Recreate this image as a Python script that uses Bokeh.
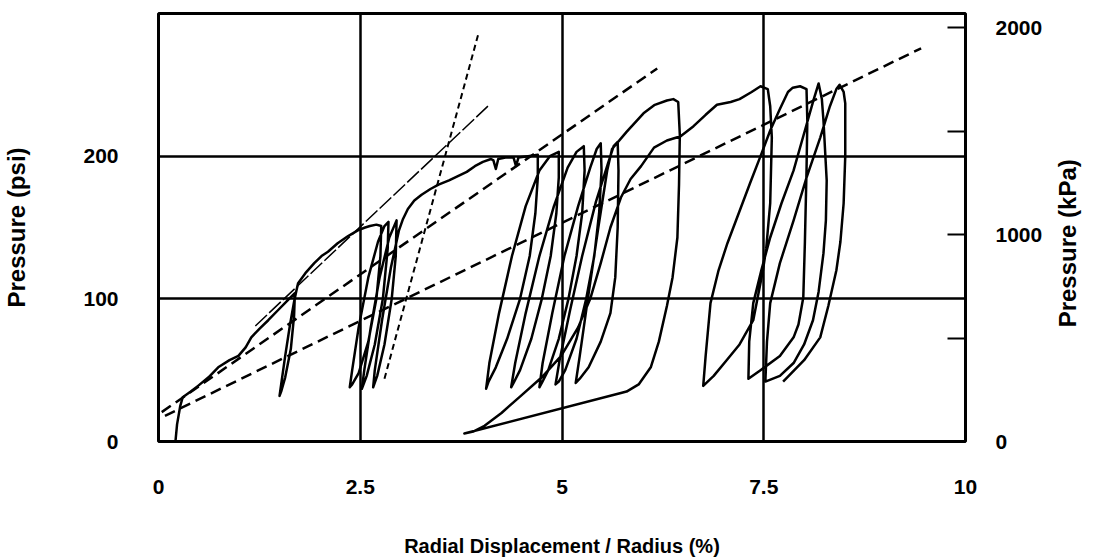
import math
from bokeh.plotting import figure
from bokeh.models import Range1d, LinearAxis, FixedTicker, NumeralTickFormatter
from bokeh.embed import file_html
from bokeh.resources import INLINE

# Main pressuremeter curve: radial displacement / radius (%) vs pressure (psi)
disp = [0.21, 0.23, 0.27, 0.30, 0.40, 0.49, 0.62, 0.74, 0.88, 0.99, 1.08, 1.15, 1.25, 1.36, 1.48, 1.60, 1.69,
        1.68, 1.64, 1.57, 1.52, 1.50, 1.52, 1.57, 1.63, 1.68, 1.71,
        1.73, 1.82, 1.93, 2.02, 2.10, 2.22, 2.35, 2.47, 2.56, 2.62, 2.70, 2.76,
        2.75, 2.70, 2.60, 2.48, 2.40, 2.37,
        2.40, 2.48, 2.60, 2.72, 2.80, 2.85,
        2.84, 2.78, 2.68, 2.58, 2.52,
        2.55, 2.63, 2.74, 2.86, 2.95,
        2.94, 2.89, 2.80, 2.71, 2.66,
        2.68, 2.77, 2.88, 2.98, 3.03,
        3.09, 3.17, 3.26, 3.37, 3.47, 3.60, 3.71, 3.82, 3.92, 4.02, 4.12,
        4.15, 4.18, 4.21, 4.30, 4.40, 4.43, 4.46, 4.58, 4.70,
        4.70, 4.67, 4.60, 4.48, 4.32, 4.18, 4.09, 4.06,
        4.10, 4.22, 4.38, 4.55, 4.72, 4.85, 4.96,
        4.96, 4.93, 4.86, 4.75, 4.62, 4.48, 4.40, 4.37,
        4.42, 4.55, 4.72, 4.90, 5.07, 5.18, 5.27,
        5.28, 5.25, 5.18, 5.08, 4.96, 4.83, 4.75, 4.72,
        4.76, 4.88, 5.03, 5.20, 5.35, 5.43, 5.48,
        5.49, 5.46, 5.40, 5.30, 5.18, 5.04, 4.96, 4.92,
        4.97, 5.10, 5.25, 5.42, 5.57, 5.64, 5.69,
        5.70, 5.69, 5.66, 5.60, 5.48, 5.33, 5.22, 5.17,
        5.22, 5.32, 5.45, 5.56, 5.62, 5.80, 6.01, 6.15, 6.30, 6.38, 6.44,
        6.46, 6.45, 6.43, 6.37, 6.30, 6.20, 6.10, 5.95, 5.80, 5.73,
        3.79,
        3.90, 4.04, 4.25, 4.49, 4.75, 4.99, 5.20, 5.35, 5.48, 5.60, 5.73, 5.85, 5.98, 6.14, 6.30, 6.47, 6.63,
        6.78, 6.92, 7.09, 7.20, 7.35, 7.46, 7.55,
        7.58, 7.60, 7.58, 7.53, 7.49, 7.37, 7.20, 7.04, 6.88, 6.75,
        6.78, 6.84, 6.94, 7.05, 7.19, 7.33, 7.46, 7.58, 7.70, 7.80, 7.86, 7.95, 8.03,
        8.04, 8.03, 8.01, 7.99, 7.93, 7.87, 7.70, 7.46, 7.31,
        7.32, 7.37, 7.47, 7.58, 7.72, 7.87, 8.03, 8.12, 8.18,
        8.22, 8.24, 8.28, 8.27, 8.24, 8.18, 8.11, 8.00, 7.87, 7.70, 7.52,
        7.54, 7.58, 7.70, 7.87, 8.03, 8.20, 8.32, 8.40, 8.44,
        8.49, 8.51, 8.51, 8.49, 8.45, 8.40, 8.30, 8.20, 8.00, 7.74]
pres = [0, 12, 25, 31, 35, 39, 45, 52, 57, 60, 66, 73, 79, 85, 92, 99, 104,
        88, 65, 45, 35, 32, 40, 60, 82, 98, 106,
        111, 118, 125, 130, 133, 139, 144, 148, 150, 151, 152, 151,
        130, 100, 70, 48, 40, 38,
        50, 80, 115, 140, 151, 154,
        135, 100, 68, 46, 37,
        50, 80, 115, 143, 155,
        130, 100, 68, 46, 38,
        50, 85, 122, 148, 156,
        163, 169, 173, 177, 180, 183, 186, 189, 193, 196, 198,
        197, 191, 198, 199, 199, 193, 199, 200, 201,
        185, 160, 130, 100, 72, 52, 42, 37,
        55, 90, 130, 165, 190, 200, 203,
        185, 160, 130, 100, 72, 50, 41, 38,
        55, 90, 130, 165, 192, 203, 207,
        190, 160, 130, 100, 72, 50, 41, 38,
        55, 90, 130, 165, 192, 205, 209,
        190, 160, 130, 100, 72, 50, 42, 40,
        57, 92, 130, 168, 195, 207, 210,
        190, 150, 115, 90, 70, 52, 44, 41,
        60, 100, 150, 190, 205, 217, 230, 236, 239, 240, 238,
        215, 180, 143, 115, 95, 70, 52, 40, 35, 34,
        5.6,
        7, 11, 20, 32, 45, 60, 80, 100, 125, 150, 171, 184, 193, 206, 211, 214, 221,
        229, 236, 238, 240, 245, 249, 247,
        235, 213, 167, 135, 120, 85, 68, 57, 46, 39,
        60, 97, 120, 139, 160, 181, 200, 218, 233, 245, 248, 249, 247,
        225, 190, 140, 101, 82, 73, 60, 50, 44,
        70, 97, 120, 143, 167, 190, 222, 240, 251,
        240, 225, 183, 155, 132, 105, 85, 68, 55, 46, 42,
        70, 97, 125, 155, 185, 213, 235, 247, 250,
        245, 237, 200, 167, 140, 120, 95, 73, 57, 42]

# Construction lines
upper_dash_x = [0.04, 6.18]
upper_dash_y = [20.6, 261.5]
lower_dash_x = [0.08, 9.45]
lower_dash_y = [18.0, 275.6]
steep_dash_x = [2.80, 3.96]
steep_dash_y = [44.0, 285.0]
tangent_x = [1.20, 4.10]
tangent_y = [81.0, 236.0]

x_ticks = [0, 2.5, 5, 7.5, 10]
psi_ticks = [0, 100, 200]
kpa_ticks = [0, 500, 1000, 1500, 2000]
PSI_TO_KPA = 6.895

FONT = "Liberation Sans"

p = figure(width=1102, height=559, output_backend="svg", toolbar_location=None,
           x_range=Range1d(0, 10), y_range=Range1d(0, 300),
           min_border_left=156, min_border_right=137, min_border_top=13, min_border_bottom=118)
p.background_fill_color = "white"
p.border_fill_color = "white"
p.outline_line_color = "black"
p.outline_line_width = 3

p.xgrid.ticker = FixedTicker(ticks=[2.5, 5, 7.5])
p.ygrid.ticker = FixedTicker(ticks=[100, 200])
for g in (p.xgrid, p.ygrid):
    g.grid_line_color = "black"
    g.grid_line_width = 2.5
    g.grid_line_alpha = 1.0

xa = p.xaxis[0]
xa.ticker = FixedTicker(ticks=x_ticks)
xa.formatter = NumeralTickFormatter(format="0.[0]")
xa.axis_label = "Radial Displacement / Radius (%)"
xa.major_label_standoff = 38
xa.axis_label_standoff = 38

ya = p.yaxis[0]
ya.ticker = FixedTicker(ticks=psi_ticks)
ya.axis_label = "Pressure (psi)"
ya.major_label_standoff = 40
ya.axis_label_standoff = 50

p.extra_y_ranges = {"kpa": Range1d(0, 300 * PSI_TO_KPA)}
ra = LinearAxis(y_range_name="kpa", ticker=FixedTicker(ticks=kpa_ticks),
                major_label_overrides={500: "", 1500: ""})
ra.major_label_standoff = 30
p.add_layout(ra, "right")

# Right-hand title carried by an extra, line-less axis so it reads bottom to top
ra_title = LinearAxis(ticker=FixedTicker(ticks=[80]),
                      major_label_overrides={80: "Pressure (kPa)"},
                      major_label_orientation=math.pi / 2)
ra_title.major_label_standoff = 22
p.add_layout(ra_title, "right")

for ax in (xa, ya, ra, ra_title):
    ax.axis_line_color = None
    ax.minor_tick_line_color = None
    ax.major_tick_out = 0
    ax.major_tick_in = 0
    ax.major_label_text_font = FONT
    ax.major_label_text_font_style = "bold"
    ax.major_label_text_font_size = "21px"
    ax.major_label_text_color = "black"
    ax.axis_label_text_font = FONT
    ax.axis_label_text_font_style = "bold"
    ax.axis_label_text_color = "black"
xa.axis_label_text_font_size = "20px"
ya.axis_label_text_font_size = "24px"
ra_title.major_label_text_font_size = "24px"
ra.major_tick_in = 18
ra.major_tick_line_color = "black"
ra.major_tick_line_width = 2

p.line(upper_dash_x, upper_dash_y, color="black", line_width=2.5, line_dash="11 6")
p.line(lower_dash_x, lower_dash_y, color="black", line_width=2.5, line_dash="11 6")
p.line(steep_dash_x, steep_dash_y, color="black", line_width=2, line_dash="6 4")
p.line(tangent_x, tangent_y, color="black", line_width=1.5, line_dash="16 3")
p.line(disp, pres, color="black", line_width=2.5, line_join="round")

open("out.html", "w").write(file_html(p, INLINE))
